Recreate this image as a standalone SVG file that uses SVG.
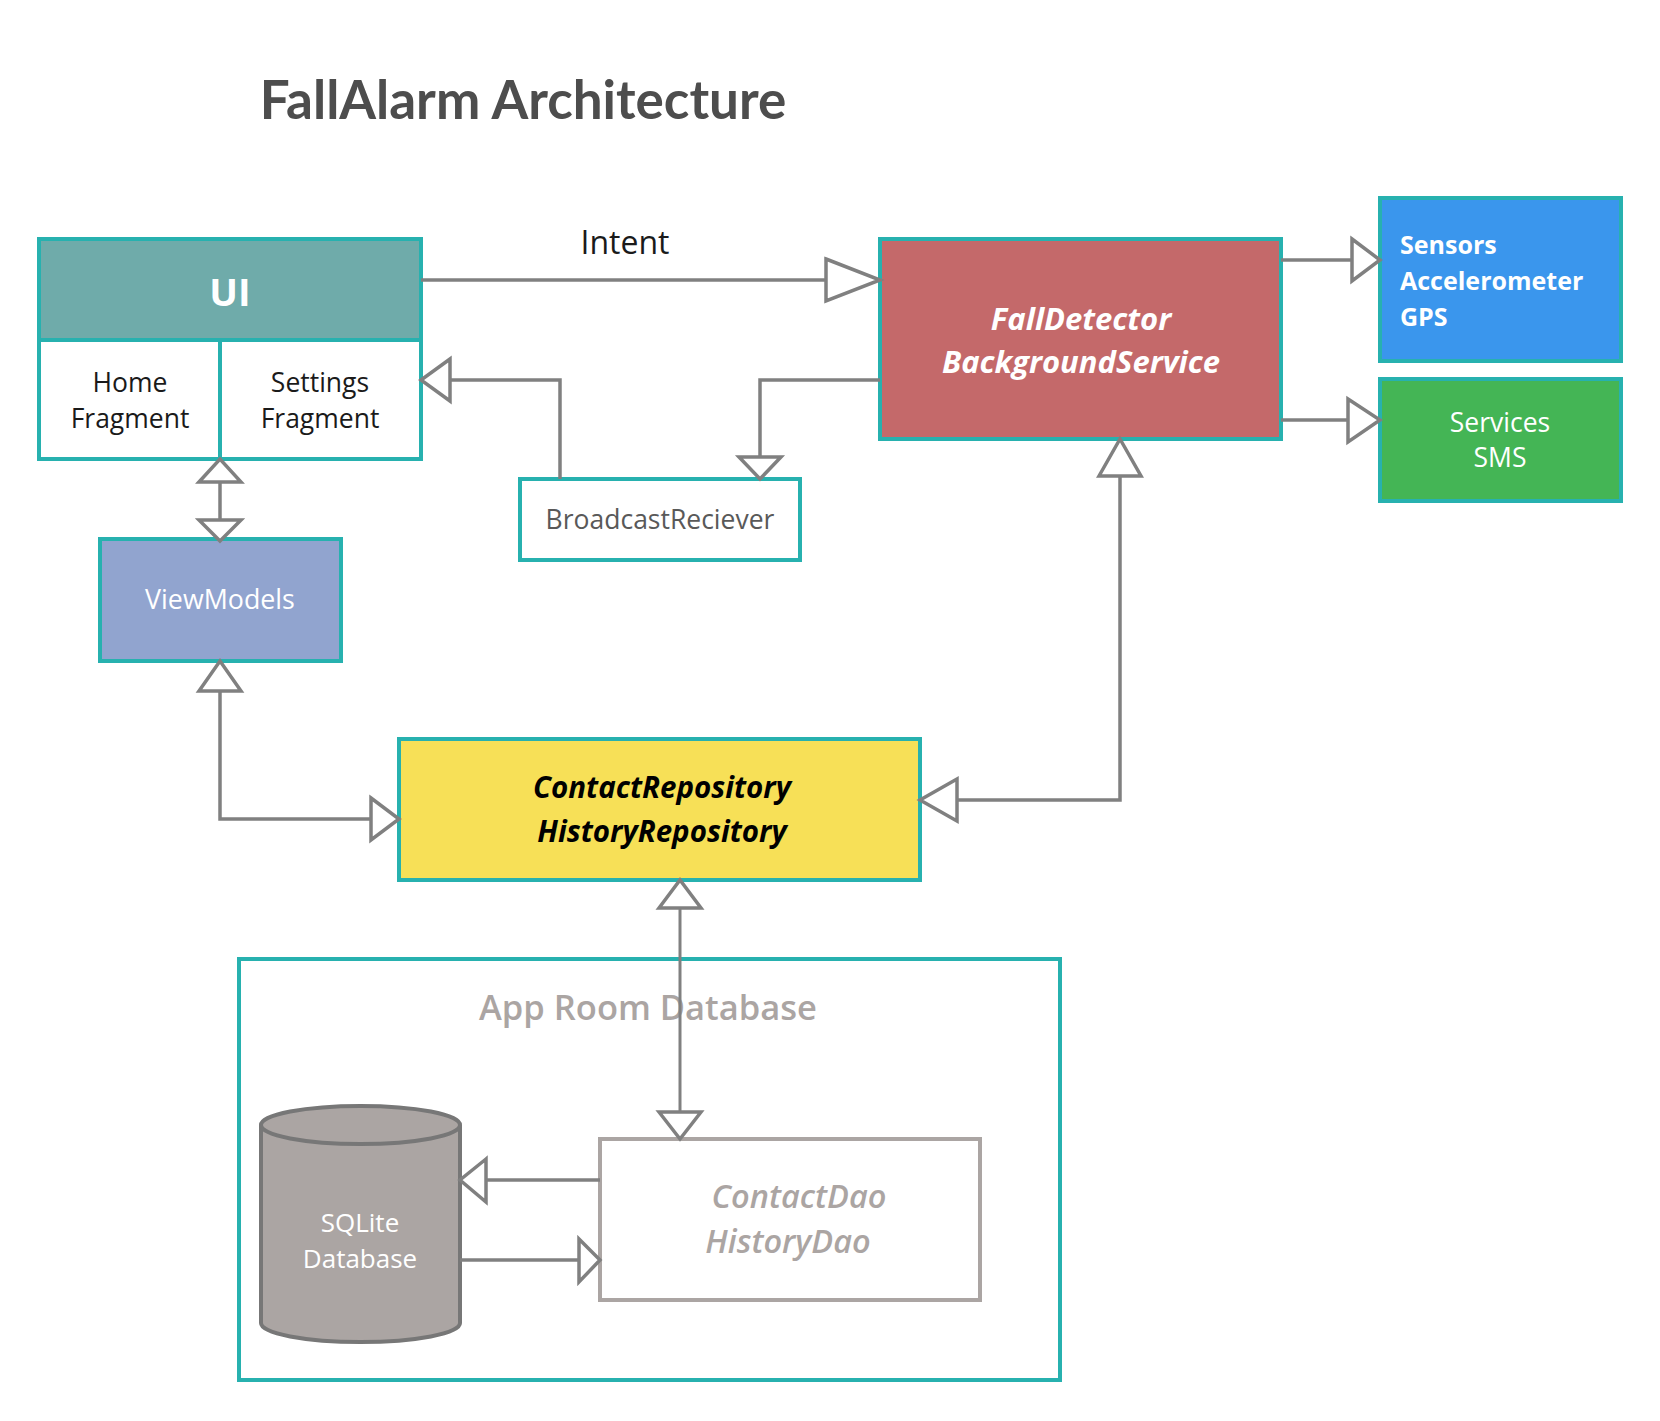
<svg xmlns="http://www.w3.org/2000/svg" width="1660" height="1421" viewBox="0 0 1660 1421">
<defs>
<style>
text{font-family:"Open Sans","Noto Sans","DejaVu Sans",sans-serif;text-anchor:middle}
.box{stroke:#27b1af;stroke-width:4}
.con{fill:none;stroke:#808080;stroke-width:3.5}
.tri{fill:#fff;stroke:#808080;stroke-width:3.5;stroke-linejoin:miter}
.w{fill:#fff}
</style>
</defs>
<rect width="1660" height="1421" fill="#fff"/>
<text id="title" x="523" y="119" style="font-family:Lato,'Open Sans',sans-serif;font-weight:bold;font-size:53px;fill:#4d4d4d">FallAlarm Architecture</text>

<g id="ui">
<rect class="box" x="39" y="239" width="382" height="220" fill="#fff"/>
<rect class="box" x="39" y="239" width="382" height="101" fill="#6fabaa"/>
<line class="box" x1="220" y1="340" x2="220" y2="459"/>
<text x="230" y="306" class="w" style="font-size:38px;font-weight:bold">UI</text>
<text x="130" y="392" style="font-size:26.5px;fill:#1a1a1a">Home</text>
<text x="130" y="428" style="font-size:26.5px;fill:#1a1a1a">Fragment</text>
<text x="320" y="392" style="font-size:26.5px;fill:#1a1a1a">Settings</text>
<text x="320" y="428" style="font-size:26.5px;fill:#1a1a1a">Fragment</text>
</g>

<g id="falldetector">
<rect class="box" x="880" y="239" width="401" height="200" fill="#c4696a"/>
<text x="1081" y="330" class="w" style="font-size:31px;font-style:italic;font-weight:bold">FallDetector</text>
<text x="1081" y="373" class="w" style="font-size:31px;font-style:italic;font-weight:bold">BackgroundService</text>
</g>

<g id="sensors">
<rect class="box" x="1380" y="198" width="241" height="163" fill="#3a96ed"/>
<text x="1400" y="254" class="w" style="font-size:25px;font-weight:bold;text-anchor:start">Sensors</text>
<text x="1400" y="290" class="w" style="font-size:25px;font-weight:bold;text-anchor:start">Accelerometer</text>
<text x="1400" y="326" class="w" style="font-size:25px;font-weight:bold;text-anchor:start">GPS</text>
</g>

<g id="services">
<rect class="box" x="1380" y="379" width="241" height="122" fill="#44b555"/>
<text x="1500" y="432" class="w" style="font-size:26.5px">Services</text>
<text x="1500" y="467" class="w" style="font-size:26.5px">SMS</text>
</g>

<g id="broadcast">
<rect class="box" x="520" y="479" width="280" height="81" fill="#fff"/>
<text x="660" y="529" style="font-size:26.5px;fill:#595959">BroadcastReciever</text>
</g>

<g id="viewmodels">
<rect class="box" x="100" y="539" width="241" height="122" fill="#91a4cf"/>
<text x="220" y="609" class="w" style="font-size:26.8px">ViewModels</text>
</g>

<g id="repository">
<rect class="box" x="399" y="739" width="521" height="141" fill="#f7e057"/>
<text x="662" y="798" style="font-size:29.5px;font-style:italic;font-weight:bold;fill:#000">ContactRepository</text>
<text x="662" y="842" style="font-size:29.5px;font-style:italic;font-weight:bold;fill:#000">HistoryRepository</text>
</g>

<g id="roomdb">
<rect class="box" x="239" y="959" width="821" height="421" fill="#fff"/>
<text x="648" y="1020" style="font-size:34.5px;font-weight:600;fill:#aba5a3">App Room Database</text>
</g>

<g id="sqlite">
<path d="M261,1125 V1323 A99.5,19 0 0 0 460,1323 V1125" fill="#aba5a3" stroke="#777" stroke-width="4"/>
<ellipse cx="360.5" cy="1125" rx="99.5" ry="19" fill="#aba5a3" stroke="#777" stroke-width="4"/>
<text x="360" y="1232" class="w" style="font-size:26px">SQLite</text>
<text x="360" y="1268" class="w" style="font-size:26px">Database</text>
</g>

<g id="dao">
<rect x="600" y="1139" width="380" height="161" fill="#fff" stroke="#aba5a3" stroke-width="4"/>
<text x="799" y="1208" style="font-size:32.5px;font-style:italic;font-weight:600;fill:#aba5a3">ContactDao</text>
<text x="788" y="1253" style="font-size:32.5px;font-style:italic;font-weight:600;fill:#aba5a3">HistoryDao</text>
</g>

<g id="connectors">
<text x="625" y="254" style="font-size:32px;fill:#1a1a1a">Intent</text>
<!-- UI -> FallDetector -->
<path class="con" d="M421,280 H826"/>
<path class="tri" d="M826,259 L880,280 L826,301 Z"/>
<!-- FD -> Sensors -->
<path class="con" d="M1281,260 H1352"/>
<path class="tri" d="M1352,239 L1380,260 L1352,281 Z"/>
<!-- FD -> Services -->
<path class="con" d="M1281,420 H1348"/>
<path class="tri" d="M1348,399 L1380,420 L1348,442 Z"/>
<!-- Broadcast -> Settings -->
<path class="con" d="M560,479 V380 H450"/>
<path class="tri" d="M450,359 L421,380 L450,401 Z"/>
<!-- FD -> Broadcast -->
<path class="con" d="M880,380 H760 V457"/>
<path class="tri" d="M739,457 L760,479 L781,457 Z"/>
<!-- UI <-> ViewModels -->
<path class="con" d="M220,482 V520"/>
<path class="tri" d="M199,482 L220,459 L241,482 Z"/>
<path class="tri" d="M199,520 L220,541 L241,520 Z"/>
<!-- ViewModels <-> Repository -->
<path class="con" d="M220,691 V819 H371"/>
<path class="tri" d="M199,691 L220,661 L241,691 Z"/>
<path class="tri" d="M371,798 L399,819 L371,840 Z"/>
<!-- Repository <-> FallDetector -->
<path class="con" d="M1120,476 V800 H957"/>
<path class="tri" d="M1099,476 L1120,439 L1141,476 Z"/>
<path class="tri" d="M957,779 L920,800 L957,821 Z"/>
<!-- Repository <-> Dao -->
<path class="con" d="M680,908 V1112" style="stroke-width:3"/>
<path class="tri" d="M659,908 L680,880 L701,908 Z"/>
<path class="tri" d="M659,1112 L680,1139 L701,1112 Z"/>
<!-- Dao -> SQLite -->
<path class="con" d="M600,1180 H486"/>
<path class="tri" d="M486,1159 L460,1180 L486,1202 Z"/>
<!-- SQLite -> Dao -->
<path class="con" d="M460,1260 H579"/>
<path class="tri" d="M579,1239 L600,1260 L579,1282 Z"/>
</g>
</svg>
